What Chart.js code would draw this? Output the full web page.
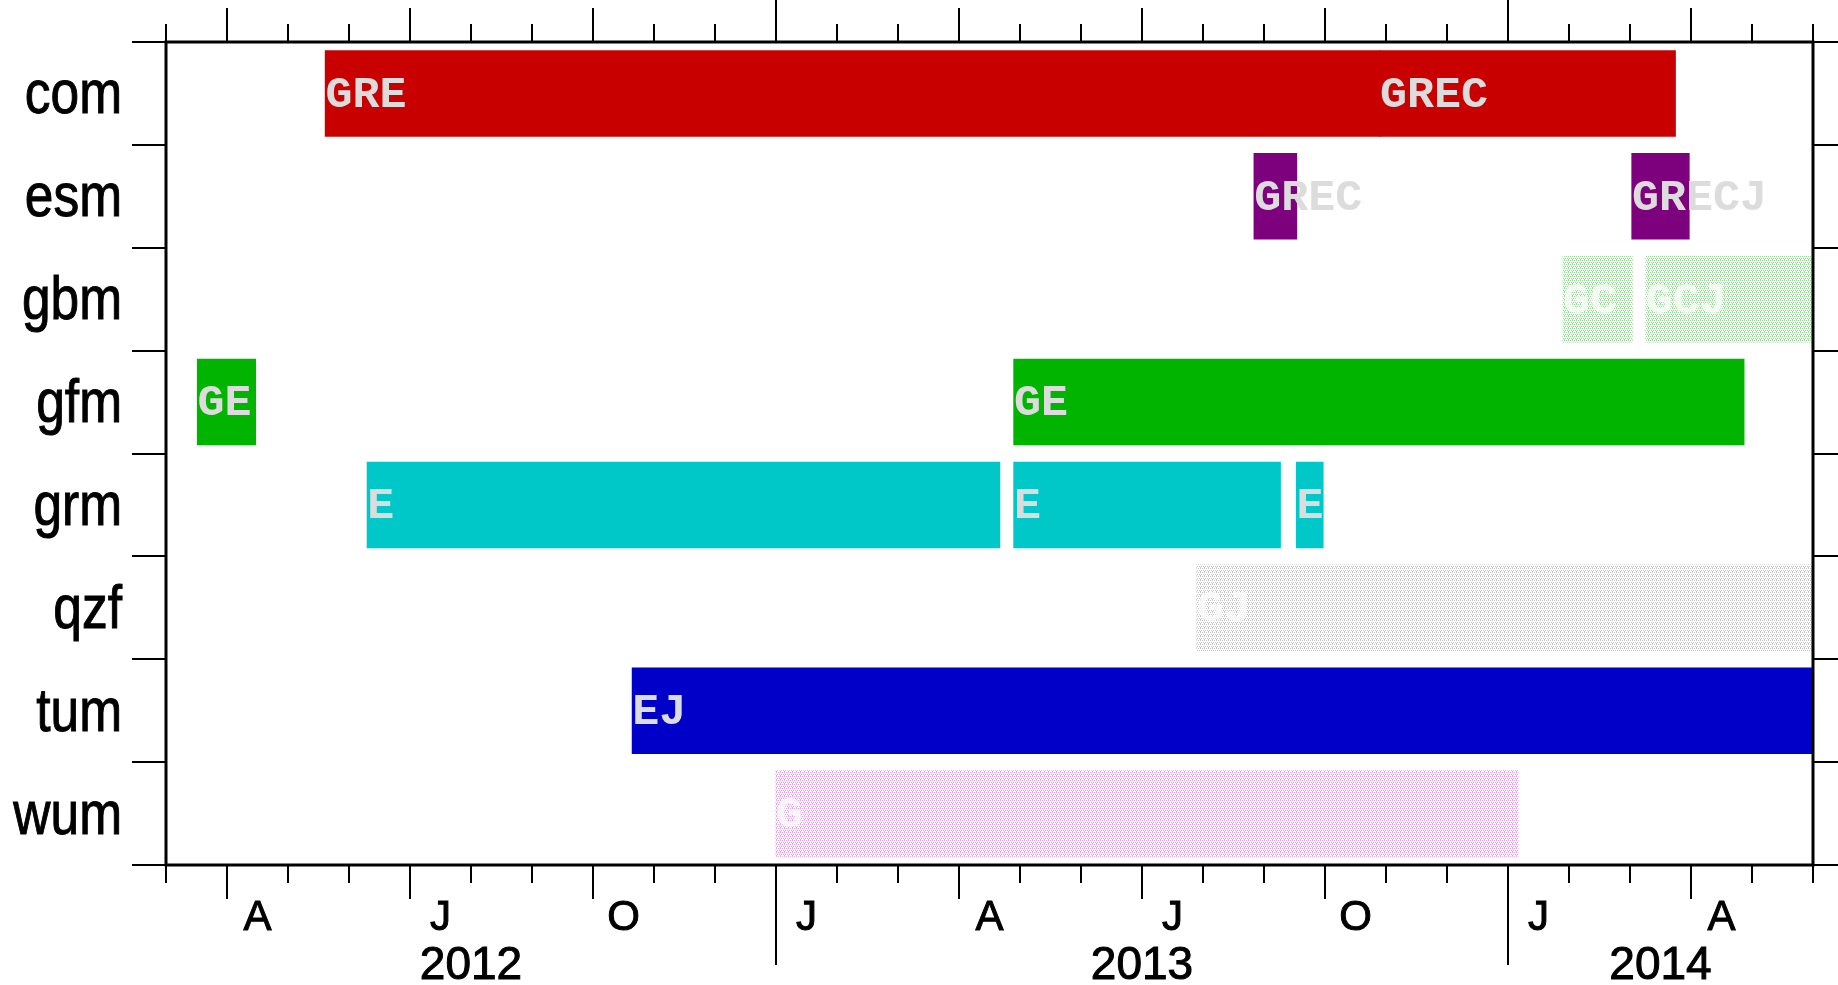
<!DOCTYPE html>
<html>
<head>
<meta charset="utf-8">
<script src="https://cdn.jsdelivr.net/npm/chart.js@4/dist/chart.umd.min.js"></script>
<style>
  html, body { margin: 0; padding: 0; background: #fff; }
  canvas { display: block; }
</style>
</head>
<body>
<canvas id="timeline" width="1838" height="985"></canvas>
<script>
// rows, top to bottom
const stations = ["com", "esm", "gbm", "gfm", "grm", "qzf", "tum", "wum"];

// one entry per bar segment
const spanStation = ["com", "com", "esm", "esm", "gbm", "gbm", "gfm", "gfm", "grm", "grm", "grm", "qzf", "tum", "wum"];
const spanStart = ["2012-05-20", "2013-10-29", "2013-08-27", "2014-03-02", "2014-01-29", "2014-03-09", "2012-03-17", "2013-04-28", "2012-06-10", "2013-04-28", "2013-09-17", "2013-07-29", "2012-10-21", "2013-01-01"];
const spanEnd = ["2013-10-29", "2014-03-24", "2013-09-17", "2014-03-31", "2014-03-02", "2014-06-01", "2012-04-15", "2014-04-27", "2013-04-21", "2013-09-09", "2013-09-30", "2014-06-01", "2014-06-01", "2014-01-06"];
const spanLabel = ["GRE", "GREC", "GREC", "GRECJ", "GC", "GCJ", "GE", "GE", "E", "E", "E", "GJ", "EJ", "G"];

// time axis
const axisStart = "2012-03-01";
const axisEnd = "2014-06-01";
const monthLetters = ["J", "F", "M", "A", "M", "J", "J", "A", "S", "O", "N", "D"];
const labeledMonths = [1, 4, 7, 10];
const years = [2012, 2013, 2014];

// styles
const solidColor = { com: "#c80000", esm: "#7d007d", gfm: "#00b400", grm: "#00c8c8", tum: "#0000c8" };
const stippleColor = { gbm: "#8ee08e", qzf: "#c4c4c4", wum: "#f29af2" };
const labelColor = "#dcdcdc";
const axisFont = "'Liberation Sans', Arial, sans-serif";

const canvas = document.getElementById("timeline");
const ctx = canvas.getContext("2d");

const [y0, m0] = axisStart.split("-").map(Number);

// date string -> months since axisStart (fractional)
function toMonths(s) {
    const [y, m, d] = s.split("-").map(Number);
    const days = new Date(y, m, 0).getDate();
    return (y - y0) * 12 + (m - m0) + (d - 1) / days;
}

function stipple(color) {
    const tile = document.createElement("canvas");
    tile.width = 4;
    tile.height = 4;
    const g = tile.getContext("2d");
    g.fillStyle = color;
    [[0, 0], [2, 0], [1, 2], [3, 2], [0, 3]].forEach(([a, b]) => g.fillRect(a, b, 1, 1));
    return ctx.createPattern(tile, "repeat");
}

const datasets = stations.map((st) => ({
    label: st,
    data: spanStation
        .map((s, i) => (s === st ? { x: [toMonths(spanStart[i]), toMonths(spanEnd[i])], y: st, tag: spanLabel[i] } : null))
        .filter(Boolean),
    backgroundColor: solidColor[st] || stipple(stippleColor[st]),
    faint: !solidColor[st],
    borderWidth: 0,
    inflateAmount: 0.6,
    grouped: false,
    barPercentage: 0.83,
    categoryPercentage: 1.0,
}));

const xMax = toMonths(axisEnd);

// heavier GMT-like text
function heavyText(c, s, x, y) {
    c.fillText(s, x, y);
    c.strokeText(s, x, y);
}

const decorations = {
    id: "decorations",
    afterDatasetsDraw(chart) {
        const c = chart.ctx;
        c.save();
        c.font = "bold 45px 'Liberation Mono', monospace";
        c.textAlign = "left";
        c.textBaseline = "middle";
        chart.data.datasets.forEach((ds, di) => {
            const meta = chart.getDatasetMeta(di);
            meta.data.forEach((el, i) => {
                c.fillStyle = ds.faint ? "rgba(255,255,255,0.75)" : labelColor;
                c.fillText(ds.data[i].tag, Math.min(el.x, el.base), el.y + 2);
            });
        });
        c.restore();
    },
    afterDraw(chart) {
        const c = chart.ctx;
        const { left, right, top, bottom } = chart.chartArea;
        const xs = chart.scales.x;
        const ys = chart.scales.y;
        c.save();
        c.strokeStyle = "#000";
        c.fillStyle = "#000";

        const line = (ax, ay, bx, by) => {
            c.beginPath();
            c.moveTo(ax, ay);
            c.lineTo(bx, by);
            c.stroke();
        };

        // month ticks, top and bottom
        c.lineWidth = 2;
        for (let m = 0; m <= xMax; m++) {
            const px = Math.round(xs.getPixelForValue(m));
            const cal = ((m0 - 1 + m) % 12) + 1;
            const isYear = cal === 1;
            const len = labeledMonths.includes(cal) ? 34 : 18;
            line(px, bottom, px, bottom + (isYear ? 100 : len));
            line(px, top, px, isYear ? 0 : top - len);
        }

        // row ticks, left and right
        const step = ys.getPixelForValue(1) - ys.getPixelForValue(0);
        for (let i = 0; i <= stations.length; i++) {
            const py = Math.round(ys.getPixelForValue(i) - step / 2);
            line(left - 34, py, left, py);
            line(right, py, chart.width, py);
        }

        // frame
        c.lineWidth = 3;
        c.strokeRect(left, top, right - left, bottom - top);

        // row names, narrow and tall
        c.lineWidth = 1;
        c.textAlign = "right";
        c.textBaseline = "alphabetic";
        c.font = "62px " + axisFont;
        ys.getLabels().forEach((lab, i) => {
            c.save();
            c.translate(left - 44, ys.getPixelForValue(i) + 20);
            c.scale(0.83, 1);
            heavyText(c, lab, 0, 0);
            c.restore();
        });

        // month letters centred in their month
        c.textAlign = "center";
        c.font = "42px " + axisFont;
        for (let m = 0; m < xMax; m++) {
            const cal = ((m0 - 1 + m) % 12) + 1;
            if (labeledMonths.includes(cal)) {
                heavyText(c, monthLetters[cal - 1], xs.getPixelForValue(m + 0.5), bottom + 65);
            }
        }

        // years centred on their visible part
        c.font = "46px " + axisFont;
        years.forEach((yr) => {
            const a = Math.max(0, toMonths(yr + "-01-01"));
            const b = Math.min(xMax, toMonths(yr + 1 + "-01-01"));
            heavyText(c, String(yr), xs.getPixelForValue((a + b) / 2), bottom + 114);
        });
        c.restore();
    },
};

new Chart(canvas, {
    type: "bar",
    data: { labels: stations, datasets },
    options: {
        indexAxis: "y",
        responsive: false,
        animation: false,
        layout: { padding: { top: 42, right: 25, left: 0, bottom: 0 } },
        plugins: { legend: { display: false }, tooltip: { enabled: false } },
        scales: {
            x: {
                type: "linear",
                min: 0,
                max: xMax,
                grid: { display: false },
                border: { display: false },
                ticks: { display: false },
                afterFit: (s) => { s.height = 120; },
            },
            y: {
                type: "category",
                grid: { display: false },
                border: { display: false },
                ticks: { display: false },
                afterFit: (s) => {
                    s.width = 166;
                    s.paddingTop = 0;
                    s.paddingBottom = 0;
                },
            },
        },
    },
    plugins: [decorations],
});
</script>
</body>
</html>
